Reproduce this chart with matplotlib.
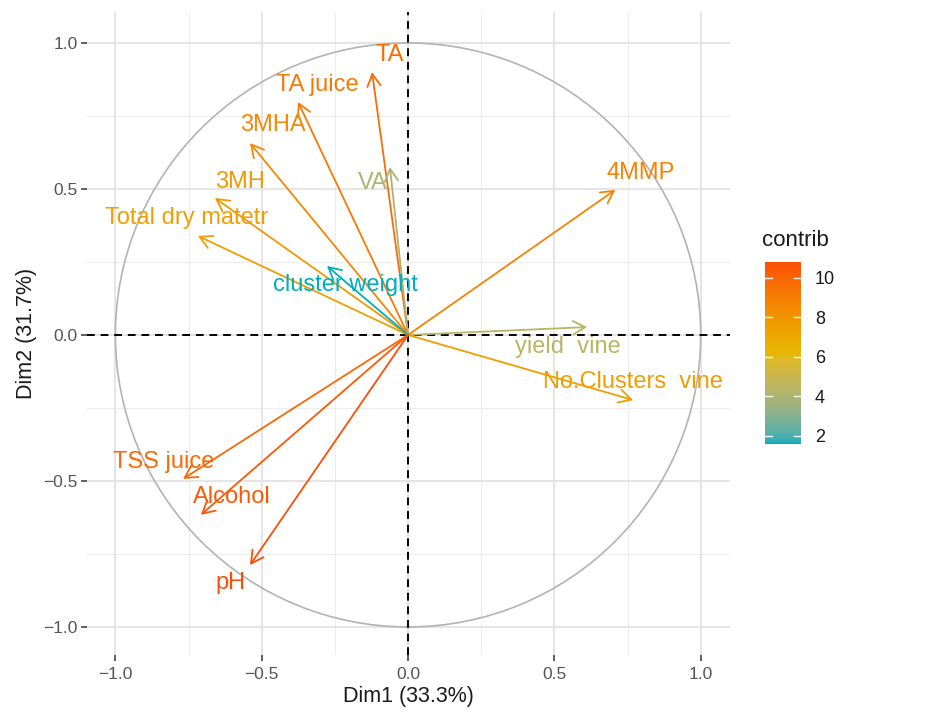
import numpy as np
import matplotlib
matplotlib.use("Agg")
import matplotlib.pyplot as plt
from matplotlib.colors import ListedColormap, Normalize, to_rgb
from matplotlib.patches import Circle

plt.rcParams['font.family'] = ['Liberation Sans', 'DejaVu Sans']

# ---- data ----
variables = ["TA", "TA juice", "3MHA", "VA", "3MH", "Total dry matetr",
             "cluster weight", "4MMP", "yield  vine", "No.Clusters  vine",
             "TSS juice", "Alcohol", "pH"]
dim1 = [-0.123, -0.376, -0.540, -0.062, -0.660, -0.718,
        -0.277, 0.708, 0.612, 0.769, -0.769, -0.708, -0.540]
dim2 = [0.900, 0.798, 0.657, 0.575, 0.469, 0.339,
        0.236, 0.497, 0.027, -0.223, -0.493, -0.616, -0.788]
contrib = [9.76, 9.20, 8.55, 3.96, 7.76, 7.46,
           1.57, 8.85, 4.43, 7.58, 9.87, 10.41, 10.80]
dim1_label = "Dim1 (33.3%)"
dim2_label = "Dim2 (31.7%)"
ticks = [-1.0, -0.5, 0.0, 0.5, 1.0]
cbar_ticks = [2, 4, 6, 8, 10]
gradient_cols = ["#00AFBB", "#E7B800", "#FC4E07"]

# label offsets (layout only, data units)
label_dx = [0.060, 0.065, 0.078, -0.060, 0.086, -0.038,
            0.062, 0.085, -0.065, 0.000, -0.065, 0.106, -0.065]
label_dy = [0.060, 0.058, 0.062, -0.055, 0.055, 0.061,
            -0.065, 0.058, -0.068, 0.062, 0.058, 0.061, -0.061]


# ---- Lab-space gradient (like ggplot2's scale_colour_gradientn) ----
def srgb_to_lab(rgb):
    rgb = np.asarray(rgb, float)
    lin = np.where(rgb <= 0.04045, rgb / 12.92, ((rgb + 0.055) / 1.055) ** 2.4)
    M = np.array([[0.4124, 0.3576, 0.1805],
                  [0.2126, 0.7152, 0.0722],
                  [0.0193, 0.1192, 0.9505]])
    xyz = M @ lin
    wp = np.array([0.95047, 1.0, 1.08883])
    t = xyz / wp
    f = np.where(t > (6/29) ** 3, np.cbrt(t), t / (3 * (6/29) ** 2) + 4/29)
    return np.array([116 * f[1] - 16, 500 * (f[0] - f[1]), 200 * (f[1] - f[2])])


def lab_to_srgb(lab):
    L, a, b = lab
    fy = (L + 16) / 116
    fx = fy + a / 500
    fz = fy - b / 200
    f = np.array([fx, fy, fz])
    t = np.where(f > 6/29, f ** 3, 3 * (6/29) ** 2 * (f - 4/29))
    wp = np.array([0.95047, 1.0, 1.08883])
    xyz = t * wp
    Minv = np.array([[3.2406, -1.5372, -0.4986],
                     [-0.9689, 1.8758, 0.0415],
                     [0.0557, -0.2040, 1.0570]])
    lin = Minv @ xyz
    lin = np.clip(lin, 0, 1)
    rgb = np.where(lin <= 0.0031308, 12.92 * lin, 1.055 * lin ** (1/2.4) - 0.055)
    return np.clip(rgb, 0, 1)


labs = [srgb_to_lab(to_rgb(c)) for c in gradient_cols]
cols = []
for s in np.linspace(0, 1, 256):
    seg = min(int(s * 2), 1)
    u = s * 2 - seg
    cols.append(lab_to_srgb(labs[seg] * (1 - u) + labs[seg + 1] * u))
cmap = ListedColormap(cols)
norm = Normalize(vmin=min(contrib), vmax=max(contrib))

fig = plt.figure(figsize=(9.53, 7.19), dpi=100)
ax = fig.add_axes([87/953, 1-655/719, (730-87)/953, (655-12)/719])

ax.set_xlim(-1.097, 1.100)
ax.set_ylim(-1.096, 1.106)

# grid
for v in [-0.75, -0.25, 0.25, 0.75]:
    ax.axvline(v, color="#EDEDED", lw=0.8, zorder=0)
    ax.axhline(v, color="#EDEDED", lw=0.8, zorder=0)
for v in ticks:
    ax.axvline(v, color="#E3E3E3", lw=1.3, zorder=0)
    ax.axhline(v, color="#E3E3E3", lw=1.3, zorder=0)

# circle
ax.add_patch(Circle((0, 0), 1.0, fill=False, ec="#B3B3B3", lw=1.2, zorder=1))

# dashed axes
ax.axhline(0, color="black", lw=1.4, ls=(0, (4, 3)), zorder=2)
ax.axvline(0, color="black", lw=1.4, ls=(0, (4, 3)), zorder=2)

# arrows and labels
for name, x, y, c, dx, dy in zip(variables, dim1, dim2, contrib, label_dx, label_dy):
    col = cmap(norm(c))
    ax.annotate("", xy=(x, y), xytext=(0, 0),
                arrowprops=dict(arrowstyle="->,head_length=0.55,head_width=0.3",
                                color=col, lw=1.3, mutation_scale=16,
                                shrinkA=0, shrinkB=0), zorder=3)
    ax.text(x + dx, y + dy, name, color=col, fontsize=17, ha="center", va="center", zorder=4)

for s in ax.spines.values():
    s.set_visible(False)
ax.set_xticks(ticks)
ax.set_yticks(ticks)
ax.set_xticklabels(["\u22121.0", "\u22120.5", "0.0", "0.5", "1.0"])
ax.set_yticklabels(["\u22121.0", "\u22120.5", "0.0", "0.5", "1.0"])
ax.tick_params(axis="both", length=4.5, width=1.1, color="#333333",
               labelsize=12.5, labelcolor="#555555")
ax.tick_params(axis="x", pad=4)
ax.tick_params(axis="y", pad=2)
ax.set_xlabel(dim1_label, fontsize=15.5, color="#1A1A1A", labelpad=3)
ax.set_ylabel(dim2_label, fontsize=15.5, color="#1A1A1A", labelpad=5)

# colorbar
cax = fig.add_axes([765/953, 1-444/719, 36/953, (444-262)/719])
grad = np.linspace(norm.vmin, norm.vmax, 256).reshape(-1, 1)
cax.imshow(grad, aspect="auto", cmap=cmap, norm=norm, origin="lower",
           extent=[0, 1, norm.vmin, norm.vmax])
cax.set_xlim(0, 1)
cax.set_ylim(norm.vmin, norm.vmax)
for t in cbar_ticks:
    cax.plot([0, 0.2], [t, t], color="white", lw=1.0)
    cax.plot([0.8, 1.0], [t, t], color="white", lw=1.0)
for s in cax.spines.values():
    s.set_visible(False)
cax.set_xticks([])
cax.yaxis.tick_right()
cax.set_yticks(cbar_ticks)
cax.tick_params(axis="y", length=0, pad=10, labelsize=13, labelcolor="#1A1A1A")
fig.text(762/953, 1-240/719, "contrib", fontsize=16, color="#1A1A1A", ha="left", va="center")

fig.savefig("out.png", dpi=100, facecolor="white")
